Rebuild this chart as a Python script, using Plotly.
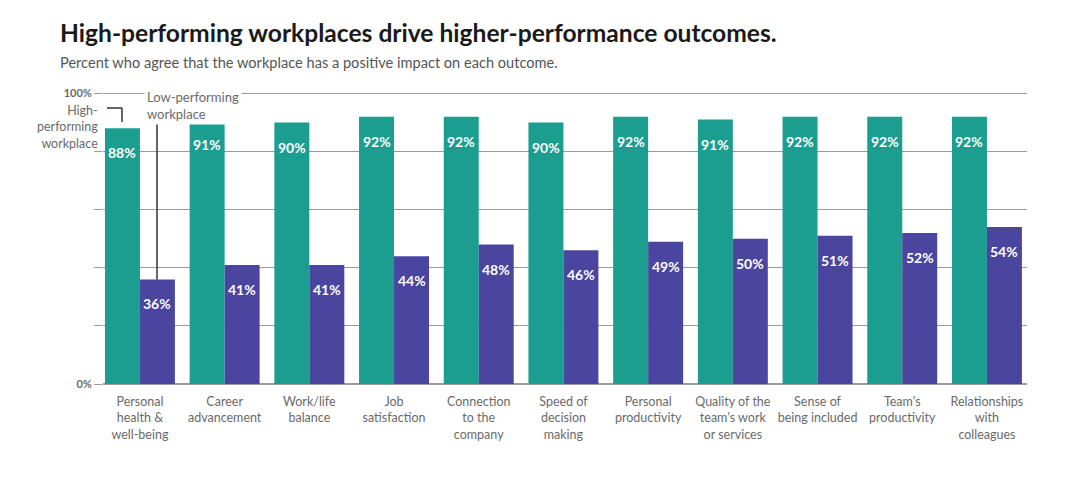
import plotly.graph_objects as go

categories = [
    "Personal<br>health &<br>well-being",
    "Career<br>advancement",
    "Work/life<br>balance",
    "Job<br>satisfaction",
    "Connection<br>to the<br>company",
    "Speed of<br>decision<br>making",
    "Personal<br>productivity",
    "Quality of the<br>team's work<br>or services",
    "Sense of<br>being included",
    "Team's<br>productivity",
    "Relationships<br>with<br>colleagues",
]
high = [88, 91, 90, 92, 92, 90, 92, 91, 92, 92, 92]
low = [36, 41, 41, 44, 48, 46, 49, 50, 51, 52, 54]

TEAL = "#1b9e8f"
PURPLE = "#4a46a0"
GRAY = "#6a6a6a"
GRID = "#9a9a9a"
FONT = "Lato"

W_PLOT = 924.0
H_PLOT = 292.0
BOTTOM = 384.0

def px_x(px):
    return (px - 103) / W_PLOT

def px_y(py):
    return (BOTTOM - py) / H_PLOT

fig = go.Figure()
fig.add_trace(go.Bar(x=categories, y=high, name="High-performing workplace",
                     marker=dict(color=TEAL, line=dict(width=0))))
fig.add_trace(go.Bar(x=categories, y=low, name="Low-performing workplace",
                     marker=dict(color=PURPLE, line=dict(width=0))))

annotations = []
for c, h, l in zip(categories, high, low):
    annotations.append(dict(x=c, y=h, xref="x", yref="y", text=f"<b>{h}%</b>",
                            showarrow=False, xshift=-17.5, yshift=-14, yanchor="top",
                            font=dict(family=FONT, size=14, color="white")))
    annotations.append(dict(x=c, y=l, xref="x", yref="y", text=f"<b>{l}%</b>",
                            showarrow=False, xshift=17.5, yshift=-14, yanchor="top",
                            font=dict(family=FONT, size=14, color="white")))

# Title / subtitle
annotations.append(dict(text="<b>High-performing workplaces drive higher-performance outcomes.</b>",
                        x=px_x(58), y=px_y(33), xref="paper", yref="paper", xanchor="left", yanchor="middle",
                        showarrow=False, font=dict(family=FONT, size=24.6, color="#1a1a1a")))
annotations.append(dict(text="Percent who agree that the workplace has a positive impact on each outcome.",
                        x=px_x(58), y=px_y(62), xref="paper", yref="paper", xanchor="left", yanchor="middle",
                        showarrow=False, font=dict(family=FONT, size=14.6, color="#555555")))
# Series callouts
annotations.append(dict(text="High-<br>performing<br>workplace", x=px_x(100), y=px_y(127),
                        xref="paper", yref="paper", xanchor="right", yanchor="middle", align="right",
                        showarrow=False, font=dict(family=FONT, size=12.5, color=GRAY)))
annotations.append(dict(text="Low-performing<br>workplace", x=px_x(144), y=px_y(106),
                        xref="paper", yref="paper", xanchor="left", yanchor="middle", align="left",
                        showarrow=False, bgcolor="white", borderpad=2,
                        font=dict(family=FONT, size=13, color=GRAY)))

shapes = [
    dict(type="line", xref="paper", yref="paper", x0=px_x(107), x1=px_x(122),
         y0=px_y(108), y1=px_y(108), line=dict(color="#333333", width=1.5)),
    dict(type="line", xref="paper", yref="paper", x0=px_x(122), x1=px_x(122),
         y0=px_y(108), y1=px_y(122), line=dict(color="#333333", width=1.5)),
    dict(type="line", xref="paper", yref="y", x0=px_x(157), x1=px_x(157),
         y0=low[0], y1=90, line=dict(color="#333333", width=1.5)),
]

fig.update_layout(
    width=1072, height=485,
    margin=dict(l=103, r=45, t=92, b=101),
    paper_bgcolor="white", plot_bgcolor="white",
    barmode="group", bargap=0.174, bargroupgap=0,
    showlegend=False,
    annotations=annotations, shapes=shapes,
    font=dict(family=FONT, color=GRAY),
)
fig.update_xaxes(tickfont=dict(family=FONT, size=12.5, color=GRAY), showline=False,
                 ticks="outside", ticklen=6, tickcolor="rgba(0,0,0,0)", showgrid=False,
                 range=[-0.436, 10.473])
fig.update_yaxes(range=[0, 100.5], tickvals=[0, 20, 40, 60, 80, 100],
                 ticktext=["<b>0%</b>", "", "", "", "", "<b>100%</b>"],
                 tickfont=dict(family=FONT, size=11, color=GRAY),
                 showgrid=True, gridcolor=GRID, gridwidth=1.2,
                 zeroline=True, zerolinecolor=GRID, zerolinewidth=1.5,
                 ticks="outside", ticklen=8, tickcolor=GRID, showline=False)

fig.write_html("out.html")
